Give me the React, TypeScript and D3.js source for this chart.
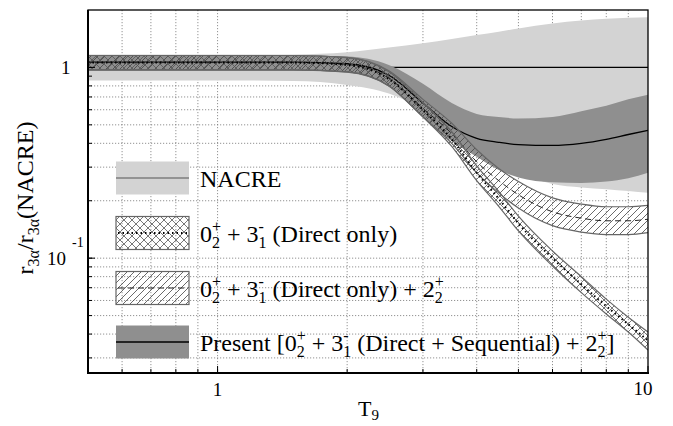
import React from 'react'
import * as d3 from 'd3'

// temperature grid (T9) and band values
const T9 = [0.5, 1, 1.5, 2, 2.5, 3, 3.5, 4, 4.5, 5, 6, 7, 8, 9, 10]

const nacreLow = [0.855, 0.855, 0.85, 0.81, 0.73, 0.6, 0.46, 0.37, 0.31, 0.28, 0.245, 0.235, 0.23, 0.225, 0.22]
const nacreHigh = [1.17, 1.17, 1.17, 1.2, 1.27, 1.34, 1.41, 1.48, 1.54, 1.6, 1.7, 1.76, 1.8, 1.82, 1.83]
const nacreMid = [1, 1, 1, 1, 1, 1, 1, 1, 1, 1, 1, 1, 1, 1, 1]

const presentLow = [0.96, 0.96, 0.96, 0.94, 0.8, 0.55, 0.41, 0.34, 0.29, 0.265, 0.25, 0.248, 0.252, 0.262, 0.28]
const presentMid = [1.065, 1.065, 1.065, 1.045, 0.91, 0.65, 0.49, 0.425, 0.405, 0.394, 0.39, 0.4, 0.42, 0.445, 0.468]
const presentHigh = [1.155, 1.155, 1.155, 1.14, 1.03, 0.82, 0.65, 0.57, 0.55, 0.54, 0.55, 0.59, 0.63, 0.68, 0.72]

const directLow = [0.97, 0.97, 0.97, 0.945, 0.8, 0.55, 0.385, 0.255, 0.187, 0.139, 0.091, 0.066, 0.051, 0.041, 0.033]
const directMid = [1.06, 1.06, 1.06, 1.03, 0.87, 0.6, 0.42, 0.28, 0.205, 0.152, 0.1, 0.073, 0.056, 0.045, 0.037]
const directHigh = [1.155, 1.155, 1.155, 1.125, 0.95, 0.655, 0.46, 0.305, 0.224, 0.166, 0.109, 0.08, 0.061, 0.049, 0.041]

const e2Low = [0.97, 0.97, 0.97, 0.95, 0.8, 0.55, 0.4, 0.28, 0.22, 0.183, 0.148, 0.137, 0.133, 0.133, 0.136]
const e2Mid = [1.06, 1.06, 1.06, 1.035, 0.88, 0.61, 0.45, 0.32, 0.255, 0.215, 0.175, 0.162, 0.157, 0.157, 0.16]
const e2High = [1.155, 1.155, 1.155, 1.13, 0.96, 0.68, 0.51, 0.37, 0.295, 0.252, 0.207, 0.192, 0.186, 0.186, 0.189]

const xTicks = [1, 10]
const yTicks = [1, 0.1]

const W = 673
const H = 426
const L = 88, R = 648, TOP = 10, B = 373

const x = d3.scaleLog().domain([0.5, 10]).range([L, R])
const y = d3.scaleLog().domain([0.025, 2]).range([B, TOP])

const band = (lo: number[], hi: number[]) =>
  d3.area<number>()
    .x(d => x(d))
    .y0((_, i) => y(lo[i]))
    .y1((_, i) => y(hi[i]))
    .curve(d3.curveMonotoneX)(T9) || ''

const line = (v: number[]) =>
  d3.line<number>()
    .x(d => x(d))
    .y((_, i) => y(v[i]))
    .curve(d3.curveMonotoneX)(T9) || ''

const serif = { fontFamily: '"Liberation Serif"' }
const FS = 24
const SS = 16

type Seg = { t: string; sub?: string; sup?: string }

// normal text followed by a stacked sub/superscript pair
function Rich({ segs, size = FS, small = SS }: { segs: Seg[]; size?: number; small?: number }) {
  const out: any[] = []
  let cur = 0
  let k = 0
  const push = (txt: string, shift: number, fs: number, dx = 0) => {
    out.push(
      <tspan key={k++} dy={shift - cur} dx={dx || undefined} fontSize={fs}>{txt}</tspan>
    )
    cur = shift
  }
  let pending = 0
  segs.forEach(s => {
    if (s.t) { push(s.t, 0, size, pending); pending = 0 }
    if (s.sub !== undefined) {
      const subW = s.sub.length * small * 0.5
      push(s.sub, small * 0.35, small)
      if (s.sup) {
        const supW = s.sup === '+' ? small * 0.564 : small * 0.333
        push(s.sup, -small * 0.62, small, -subW)
        pending = Math.max(0, subW - supW)
      }
    }
  })
  return <>{out}</>
}

const legendItems: { label: Seg[]; kind: string }[] = [
  { kind: 'nacre', label: [{ t: 'NACRE' }] },
  { kind: 'direct', label: [{ t: '0', sub: '2', sup: '+' }, { t: ' + 3', sub: '1', sup: '-' }, { t: ' (Direct only)' }] },
  { kind: 'e2', label: [{ t: '0', sub: '2', sup: '+' }, { t: ' + 3', sub: '1', sup: '-' }, { t: ' (Direct only) + 2', sub: '2', sup: '+' }] },
  { kind: 'present', label: [{ t: 'Present [0', sub: '2', sup: '+' }, { t: ' + 3', sub: '1', sup: '-' }, { t: ' (Direct + Sequential) + 2', sub: '2', sup: '+' }, { t: ']' }] },
]

export default function App() {
  const xGrid = x.ticks().filter(v => v > 0.5 && v < 10)
  const yGrid = y.ticks().filter(v => v > 0.025 && v < 2)
  const legX = 116, legW = 73, legH = 33
  const legY = [178, 233, 288, 342]

  return (
    <svg width={W} height={H} style={{ position: 'absolute', left: 0, top: 0, background: '#fff' }}>
      <defs>
        <clipPath id="plot"><rect x={L} y={TOP} width={R - L} height={B - TOP} /></clipPath>
        <pattern id="cross" width={8} height={8} patternUnits="userSpaceOnUse">
          <path d="M0,0L8,8M8,0L0,8" stroke="#555" strokeWidth={0.8} />
        </pattern>
        <pattern id="diag" width={7} height={7} patternUnits="userSpaceOnUse">
          <path d="M0,7L7,0M-1,1L1,-1M6,8L8,6" stroke="#444" strokeWidth={0.8} />
        </pattern>
      </defs>

      {/* grid */}
      <g stroke="#777" strokeWidth={0.8} strokeDasharray="1.2,1.8">
        {xGrid.map(v => <line key={'gx' + v} x1={x(v)} x2={x(v)} y1={TOP} y2={B} />)}
        {yGrid.map(v => <line key={'gy' + v} x1={L} x2={R} y1={y(v)} y2={y(v)} />)}
      </g>

      <g clipPath="url(#plot)">
        <path d={band(nacreLow, nacreHigh)} fill="#d3d3d3" />
        <path d={line(nacreMid)} fill="none" stroke="#000" strokeWidth={1.2} />
        <path d={band(presentLow, presentHigh)} fill="#8f8f8f" />
        <path d={line(presentMid)} fill="none" stroke="#000" strokeWidth={1.3} />

        <path d={band(e2Low, e2High)} fill="url(#diag)" />
        <path d={line(e2Low)} fill="none" stroke="#666" strokeWidth={1.2} />
        <path d={line(e2High)} fill="none" stroke="#666" strokeWidth={1.2} />
        <path d={line(e2Mid)} fill="none" stroke="#222" strokeWidth={1} strokeDasharray="6,4" />

        <path d={band(directLow, directHigh)} fill="url(#cross)" />
        <path d={line(directLow)} fill="none" stroke="#666" strokeWidth={1.2} />
        <path d={line(directHigh)} fill="none" stroke="#666" strokeWidth={1.2} />
        <path d={line(directMid)} fill="none" stroke="#000" strokeWidth={2} strokeDasharray="1.5,3" />
      </g>

      {/* legend */}
      {legendItems.map((it, i) => {
        const cy = legY[i]
        const top = cy - legH / 2
        return (
          <g key={it.kind}>
            {it.kind === 'nacre' && <>
              <rect x={legX} y={top} width={legW} height={legH} fill="#d3d3d3" />
              <line x1={legX} x2={legX + legW} y1={cy} y2={cy} stroke="#555" strokeWidth={1.2} />
            </>}
            {it.kind === 'direct' && <>
              <rect x={legX} y={top} width={legW} height={legH} fill="url(#cross)" stroke="#666" strokeWidth={1.2} />
              <line x1={legX + 2} x2={legX + legW - 2} y1={cy} y2={cy} stroke="#000" strokeWidth={2} strokeDasharray="1.5,3" />
            </>}
            {it.kind === 'e2' && <>
              <rect x={legX} y={top} width={legW} height={legH} fill="url(#diag)" stroke="#666" strokeWidth={1.2} />
              <line x1={legX + 2} x2={legX + legW - 2} y1={cy} y2={cy} stroke="#222" strokeWidth={1} strokeDasharray="6,4" />
            </>}
            {it.kind === 'present' && <>
              <rect x={legX} y={top} width={legW} height={legH} fill="#8f8f8f" />
              <line x1={legX} x2={legX + legW} y1={cy} y2={cy} stroke="#000" strokeWidth={1.3} />
            </>}
            <text x={200} y={cy + 9} fontSize={FS} fill="#000" style={serif}>
              <Rich segs={it.label} />
            </text>
          </g>
        )
      })}

      {/* ticks */}
      <g stroke="#000" strokeWidth={1}>
        {yGrid.map(v => <line key={'ty' + v} x1={L} x2={L + 4} y1={y(v)} y2={y(v)} />)}
        {yTicks.map(v => <line key={'tY' + v} x1={L} x2={L + 7} y1={y(v)} y2={y(v)} />)}
        {xGrid.map(v => <line key={'tx' + v} x1={x(v)} x2={x(v)} y1={B} y2={B - 4} />)}
        {xTicks.map(v => <line key={'tX' + v} x1={x(v)} x2={x(v)} y1={B} y2={B - 7} />)}
      </g>

      {/* frame */}
      <rect x={L} y={TOP} width={R - L} height={B - TOP} fill="none" stroke="#000" strokeWidth={1.3} />
      <line x1={L} x2={L} y1={TOP} y2={B + 1} stroke="#000" strokeWidth={2} />
      <line x1={L - 1} x2={R + 1} y1={B} y2={B} stroke="#000" strokeWidth={2} />

      {/* tick labels */}
      <text x={x(xTicks[0])} y={396} textAnchor="middle" fontSize={19} style={serif}>1</text>
      <text x={x(xTicks[1]) - 5} y={395} textAnchor="middle" fontSize={19} style={serif}>10</text>
      <text x={70.5} y={y(yTicks[0]) + 7} textAnchor="end" fontSize={19} style={serif}>1</text>
      <text x={66} y={y(yTicks[1]) + 7} textAnchor="end" fontSize={19} style={serif}>10</text>
      <text x={72} y={y(yTicks[1]) - 11} fontSize={14} style={serif}>-1</text>

      {/* axis titles */}
      <text x={358} y={416} fontSize={22} style={serif}>T<tspan dy={4} fontSize={15}>9</tspan></text>
      <g transform="translate(33,198) rotate(-90)">
        <text x={0} y={0} textAnchor="middle" fontSize={24} style={serif}>
          r<tspan dy={6} fontSize={16}>3α</tspan><tspan dy={-6}>/r</tspan><tspan dy={6} fontSize={16}>3α</tspan><tspan dy={-6}>(NACRE)</tspan>
        </text>
      </g>
    </svg>
  )
}
